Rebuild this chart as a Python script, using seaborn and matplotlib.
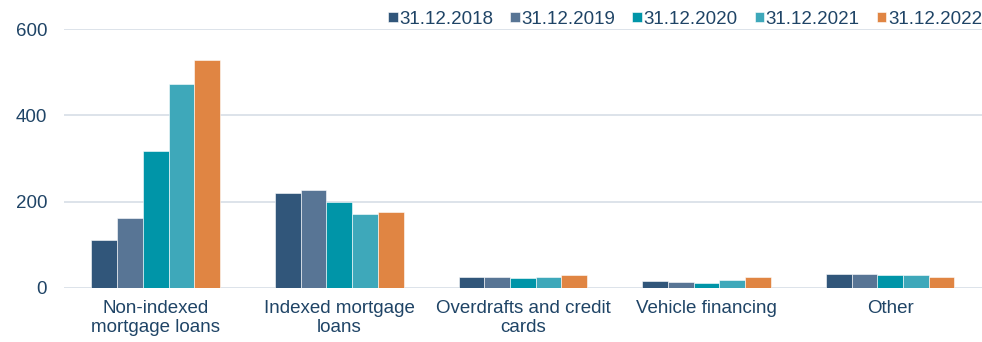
import matplotlib
matplotlib.use("Agg")
import matplotlib.pyplot as plt
import seaborn as sns
import pandas as pd

categories = ["Non-indexed\nmortgage loans", "Indexed mortgage\nloans",
              "Overdrafts and credit\ncards", "Vehicle financing", "Other"]
dates = ["31.12.2018", "31.12.2019", "31.12.2020", "31.12.2021", "31.12.2022"]
v2018 = [112, 221, 25, 15, 33]
v2019 = [163, 226, 26, 13, 32]
v2020 = [317, 199, 23, 12, 31]
v2021 = [473, 172, 26, 19, 30]
v2022 = [528, 177, 29, 26, 26]
yticks = [0, 200, 400, 600]

colors = ["#31567A", "#587595", "#0095A8", "#3EA8BA", "#E08543"]
text_color = "#1F4466"

rows = []
for d, vals in zip(dates, [v2018, v2019, v2020, v2021, v2022]):
    for c, v in zip(categories, vals):
        rows.append({"category": c, "date": d, "value": v})
df = pd.DataFrame(rows)

sns.set_theme(style="white")
plt.rcParams["font.family"] = ["Liberation Sans", "DejaVu Sans"]

fig = plt.figure(figsize=(9.82, 3.42), dpi=100)
ax = fig.add_axes([0.065, 0.158, 0.935, 0.757])

sns.barplot(data=df, x="category", y="value", hue="date", palette=colors,
            order=categories, hue_order=dates, width=0.70, saturation=1,
            edgecolor="white", linewidth=0.4, ax=ax, zorder=3)

ax.set_ylim(0, 600)
ax.set_yticks(yticks)
ax.set_xlim(-0.5, 4.5)
ax.set_xlabel("")
ax.set_ylabel("")
for s in ax.spines.values():
    s.set_visible(False)
ax.grid(axis="y", color="#D3DBE4", linewidth=1.1, zorder=0)
ax.set_axisbelow(True)
ax.tick_params(axis="both", length=0, labelsize=13.5, colors=text_color)
ax.tick_params(axis="x", pad=9)
ax.tick_params(axis="y", pad=12)
for lbl in ax.get_xticklabels():
    lbl.set_linespacing(1.1)

handles, labels = ax.get_legend_handles_labels()
leg = ax.legend(handles, labels, loc="lower right", bbox_to_anchor=(1.0, 1.005),
                ncol=5, frameon=False, fontsize=13.5, handlelength=0.5,
                handleheight=0.5, handletextpad=0.1, columnspacing=0.9,
                borderaxespad=0, borderpad=0)
for t in leg.get_texts():
    t.set_color(text_color)

fig.savefig("out.png", dpi=100)
